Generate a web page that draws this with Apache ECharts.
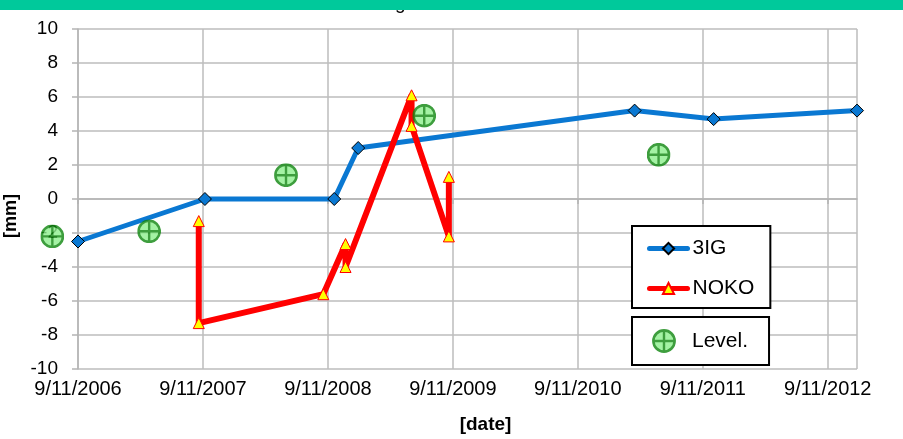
<!DOCTYPE html>
<html>
<head>
<meta charset="utf-8">
<script src="https://cdn.jsdelivr.net/npm/echarts@6/dist/echarts.min.js"></script>
<style>
  html, body { margin: 0; padding: 0; background: #fff; }
  #chart { width: 903px; height: 439px; }
</style>
</head>
<body>
<div id="chart"></div>
<script>
// x axis starts at this date, values are days from it
const startDate = '2006-09-11';
const endDate = '2012-12-05';
const yearTicks = ['9/11/2006', '9/11/2007', '9/11/2008', '9/11/2009', '9/11/2010', '9/11/2011', '9/11/2012'];

// 3IG
const dates3IG = ['2006-09-11', '2007-09-17', '2008-09-29', '2008-12-08', '2011-02-24', '2011-10-13', '2012-12-05'];
const values3IG = [-2.5, 0, 0, 3.0, 5.2, 4.7, 5.2];

// NOKO
const datesNOKO = ['2007-08-30', '2007-08-30', '2008-08-28', '2008-11-01', '2008-11-01', '2009-05-13', '2009-05-13', '2009-08-30', '2009-08-30'];
const valuesNOKO = [-1.3, -7.3, -5.6, -2.65, -4.0, 6.1, 4.3, -2.2, 1.3];

// Level.
const datesLevel = ['2006-06-28', '2007-04-07', '2008-05-11', '2009-06-19', '2011-05-05'];
const valuesLevel = [-2.2, -1.9, 1.4, 4.9, 2.6];

function toDay(s) {
  return (Date.parse(s) - Date.parse(startDate)) / 86400000;
}
function pairs(ds, vs) {
  return ds.map((d, i) => [toDay(d), vs[i]]);
}

const levelSvg =
  "<svg xmlns='http://www.w3.org/2000/svg' width='24' height='24'>" +
  "<circle cx='12' cy='12' r='10.6' fill='#8ef08e' stroke='#0e860e' stroke-width='2.6'/>" +
  "<path d='M12 1.6V22.4M1.6 12H22.4' stroke='#0e860e' stroke-width='2.4'/></svg>";
const levelSymbol = 'image://data:image/svg+xml;charset=utf-8,' + encodeURIComponent(levelSvg);

const fontFam = '"Liberation Sans", Arial, sans-serif';
const yearLen = 365.25;

const myChart = echarts.init(document.getElementById('chart'));
const option = {
  animation: false,
  backgroundColor: '#fff',
  textStyle: { fontFamily: fontFam },
  graphic: [
    {
      type: 'text',
      left: 395,
      top: -6,
      z: 1,
      style: { text: 'g', fontSize: 19, fontFamily: fontFam, fill: '#000' },
    },
    {
      type: 'rect',
      left: 0,
      top: 0,
      z: 10,
      shape: { width: 903, height: 10 },
      style: { fill: '#00c99b' },
    },
  ],
  grid: {
    left: 78,
    right: 46,
    top: 29,
    bottom: 70,
    outerBoundsMode: 'none',
  },
  legend: [
    {
      data: ['3IG', 'NOKO'],
      orient: 'vertical',
      left: 632,
      top: 226,
      padding: [12, 16, 9, 15],
      itemWidth: 38,
      itemHeight: 14,
      itemGap: 19,
      borderColor: '#000',
      borderWidth: 2,
      backgroundColor: '#fff',
      lineStyle: { width: 5, cap: 'round' },
      textStyle: { fontSize: 21, color: '#000', fontFamily: fontFam },
    },
    {
      data: ['Level.'],
      left: 632,
      top: 317,
      padding: [12, 21, 12, 20],
      itemWidth: 24,
      itemHeight: 24,
      borderColor: '#000',
      borderWidth: 2,
      backgroundColor: '#fff',
      textStyle: { fontSize: 21, color: '#000', fontFamily: fontFam, padding: [0, 0, 0, 11] },
    },
  ],
  xAxis: {
    type: 'value',
    min: 0,
    max: toDay(endDate),
    interval: yearLen,
    name: '[date]',
    nameLocation: 'middle',
    nameGap: 46,
    nameTextStyle: { fontSize: 19, fontWeight: 'bold', color: '#000', padding: [0, 0, 0, 36] },
    axisLine: { show: true, lineStyle: { color: '#b4b4b4', width: 1.5 } },
    axisTick: { show: true, length: 5, lineStyle: { color: '#b4b4b4', width: 1.5 } },
    splitLine: { show: true, lineStyle: { color: '#bdbdbd', width: 1.5 } },
    axisLabel: {
      fontSize: 20,
      color: '#000',
      margin: 10,
      showMaxLabel: false,
      formatter: function (v) {
        const k = v / yearLen;
        if (Math.abs(k - Math.round(k)) > 0.01) return '';
        return yearTicks[Math.round(k)] || '';
      },
    },
  },
  yAxis: {
    type: 'value',
    min: -10,
    max: 10,
    interval: 2,
    name: '[mm]',
    nameLocation: 'middle',
    nameGap: 55,
    nameTextStyle: { fontSize: 18, fontWeight: 'bold', color: '#000', padding: [0, 34, 0, 0] },
    axisLine: { show: true, lineStyle: { color: '#b4b4b4', width: 1.5 } },
    axisTick: { show: true, length: 6, lineStyle: { color: '#b4b4b4', width: 1.5 } },
    splitLine: { show: true, lineStyle: { color: '#bdbdbd', width: 1.5 } },
    axisLabel: { fontSize: 19, color: '#000', margin: 20 },
  },
  series: [
    {
      name: '3IG',
      type: 'line',
      data: pairs(dates3IG, values3IG),
      clip: false,
      symbol: 'diamond',
      symbolSize: 13,
      lineStyle: { color: '#0a78d2', width: 5 },
      itemStyle: { color: '#0a78d2', borderColor: '#000', borderWidth: 1 },
      z: 2,
    },
    {
      name: 'NOKO',
      type: 'line',
      data: pairs(datesNOKO, valuesNOKO),
      clip: false,
      symbol: 'triangle',
      symbolSize: 11,
      lineStyle: { color: '#ff0000', width: 6 },
      itemStyle: { color: '#ffff00', borderColor: '#ff0000', borderWidth: 1 },
      z: 3,
    },
    {
      name: 'Level.',
      type: 'scatter',
      data: pairs(datesLevel, valuesLevel),
      clip: false,
      symbol: levelSymbol,
      symbolSize: 24,
      z: 4,
    },
  ],
};
myChart.setOption(option);
</script>
</body>
</html>
